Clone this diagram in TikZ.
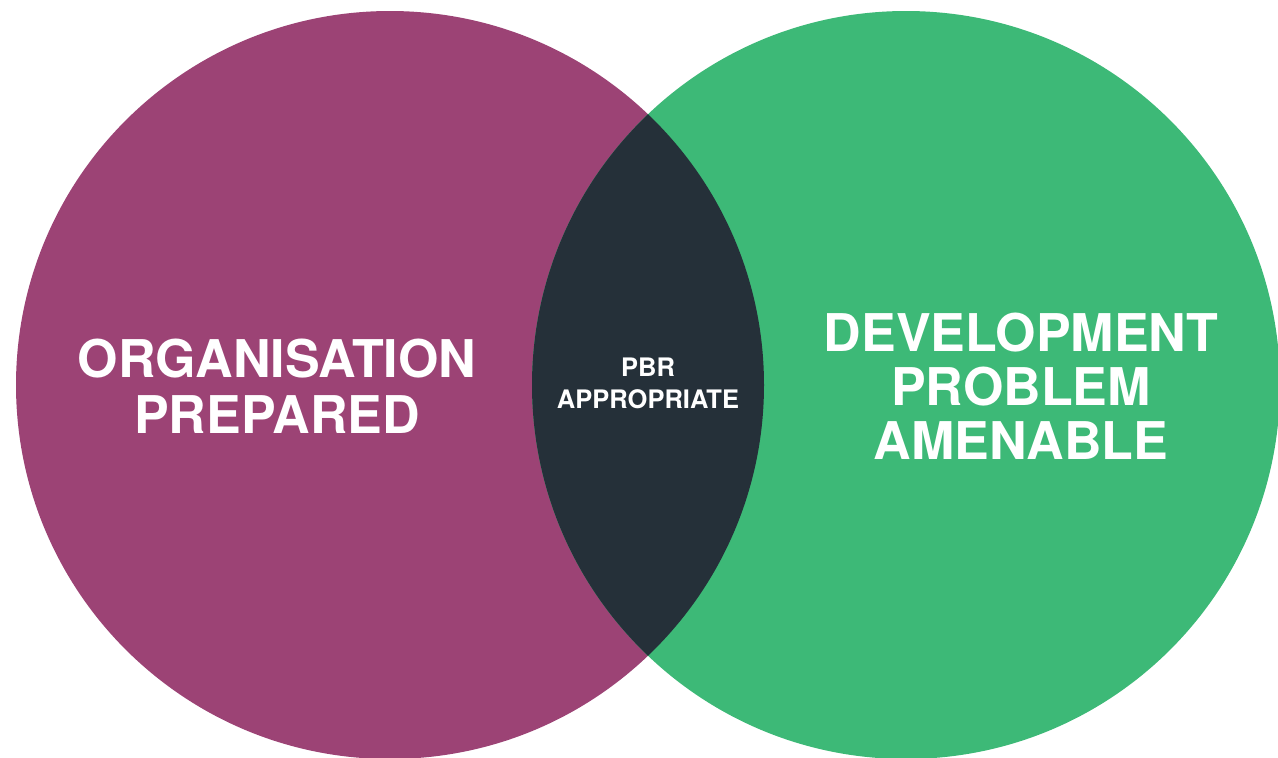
\documentclass[tikz,border=0pt]{standalone}
\usepackage{fontspec}
\setmainfont{TeX Gyre Heros}
\definecolor{venpurple}{HTML}{9C4375}
\definecolor{vengreen}{HTML}{3DB977}
\definecolor{vendark}{HTML}{253039}
\begin{document}
\begin{tikzpicture}[x=1pt,y=-1pt,
  bigtext/.style={text=white,font=\bfseries\fontsize{52}{56}\selectfont,align=center,inner sep=0pt},
  smalltext/.style={text=white,font=\bfseries\fontsize{25.5}{32}\selectfont,align=center,inner sep=0pt}]
\useasboundingbox (0,0) rectangle (1278,758);
\coordinate (cl) at (390,385);
\coordinate (cr) at (906,385);
\fill[venpurple] (cl) circle (374);
\fill[vengreen] (cr) circle (374);
\begin{scope}
  \clip (cl) circle (374);
  \fill[vendark] (cr) circle (374);
\end{scope}
\node[bigtext] (left) at (277,386) {ORGANISATION\\PREPARED};
\node[bigtext,font=\bfseries\fontsize{52}{54}\selectfont] (right) at (1021,386.5) {DEVELOPMENT\\PROBLEM\\AMENABLE};
\node[smalltext] (mid) at (648,383) {PBR\\APPROPRIATE};
\end{tikzpicture}
\end{document}
